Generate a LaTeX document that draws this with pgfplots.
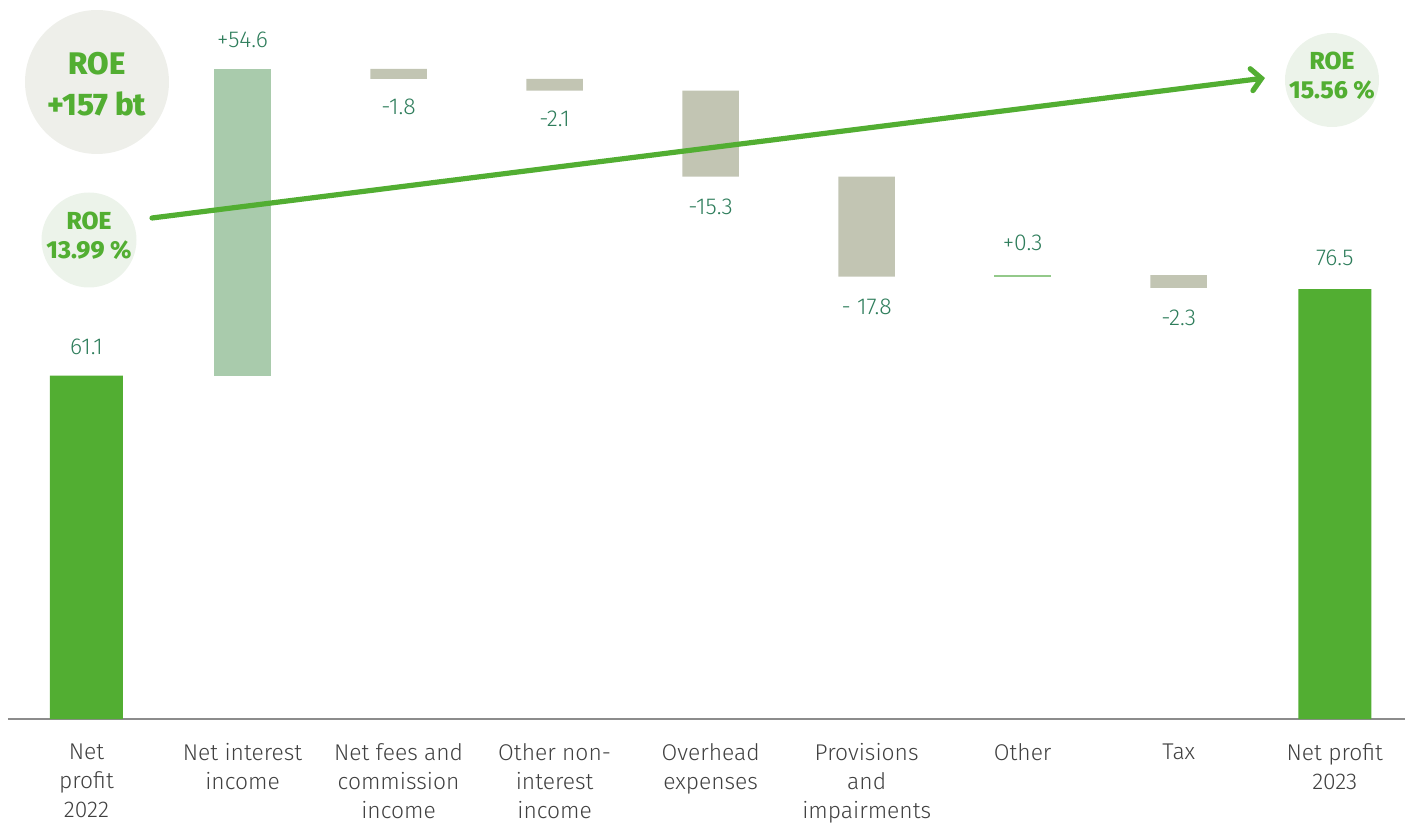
\documentclass[border=0pt]{standalone}
\usepackage{fontspec}
\setmainfont{Fira Sans Light}
\newfontfamily\heavy{Fira Sans ExtraBold}
\usepackage{pgfplots}
\pgfplotsset{compat=1.18}
\usetikzlibrary{arrows.meta}
\definecolor{npgreen}{HTML}{52AE32}
\definecolor{niigreen}{HTML}{A9CBAC}
\definecolor{greybar}{HTML}{C2C5B3}
\definecolor{othgreen}{HTML}{93C98A}
\definecolor{valgreen}{HTML}{2E7D5B}
\definecolor{labgrey}{HTML}{404040}
\definecolor{bigcirc}{HTML}{EEEFEA}
\definecolor{smallcirc}{HTML}{ECF3EA}
\definecolor{arrowgreen}{HTML}{52AE32}
\tikzset{vlab/.style={text=valgreen, font=\fontsize{11.5}{13}\selectfont}}
\begin{document}
\begin{tikzpicture}
\useasboundingbox (0,0) rectangle (702.5pt,-411.5pt);
% annotation circles
\fill[bigcirc] (48.5pt,-41pt) circle (36pt);
\fill[smallcirc] (44.5pt,-120pt) circle (23.75pt);
\fill[smallcirc] (666pt,-40pt) circle (23.5pt);
\begin{axis}[
  at={(4pt,-359.5pt)}, anchor=south west,
  scale only axis, width=698.5pt, height=359.5pt,
  xmin=-0.503, xmax=8.45, ymin=0, ymax=127.94,
  ybar stacked,
  axis y line=none, axis x line=bottom,
  x axis line style={-, draw=black!45, line width=1pt},
  xtick={0,1,2,3,4,5,6,7,8}, xtick style={draw=none}, major tick length=0pt,
  xticklabels={{Net\\profit\\2022},{Net interest\\income},{Net fees and\\commission\\income},{Other non-\\interest\\income},{Overhead\\expenses},{Provisions\\and\\impairments},{Other},{Tax},{Net profit\\2023}},
  xticklabel style={align=center, anchor=north, inner sep=0pt, yshift=-12pt, text=labgrey, font=\fontsize{11.4}{14.5}\selectfont},
  clip=false,
]
\addplot[fill=white, draw=none, opacity=0, bar width=28.25pt] coordinates {(0,0)(1,61.1)(2,113.9)(3,111.8)(4,96.5)(5,78.7)(6,78.7)(7,76.7)(8,0)};
\addplot[fill=npgreen, draw=none, bar width=36.5pt] coordinates {(0,61.1)(1,0)(2,0)(3,0)(4,0)(5,0)(6,0)(7,0)(8,76.5)};
\addplot[fill=niigreen, draw=none, bar width=28.25pt] coordinates {(0,0)(1,54.6)(2,0)(3,0)(4,0)(5,0)(6,0)(7,0)(8,0)};
\addplot[fill=greybar, draw=none, bar width=28.25pt] coordinates {(0,0)(1,0)(2,1.8)(3,2.1)(4,15.3)(5,17.8)(6,0)(7,2.3)(8,0)};
\addplot[fill=othgreen, draw=none, bar width=28.25pt] coordinates {(0,0)(1,0)(2,0)(3,0)(4,0)(5,0)(6,0.3)(7,0)(8,0)};
% value labels
\node[vlab, yshift=14.5pt] at (axis cs:0,61.1) {61.1};
\node[vlab, yshift=14.5pt] at (axis cs:1,115.7) {+54.6};
\node[vlab, yshift=-14pt] at (axis cs:2,113.9) {-1.8};
\node[vlab, yshift=-14pt] at (axis cs:3,111.8) {-2.1};
\node[vlab, yshift=-15pt] at (axis cs:4,96.5) {-15.3};
\node[vlab, yshift=-15pt] at (axis cs:5,78.7) {- 17.8};
\node[vlab, yshift=16pt] at (axis cs:6,79.0) {+0.3};
\node[vlab, yshift=-15pt] at (axis cs:7,76.7) {-2.3};
\node[vlab, yshift=15.5pt] at (axis cs:8,76.5) {76.5};
\end{axis}
% ROE arrow
\draw[arrowgreen, line width=2.6pt, line cap=round, -{Straight Barb[length=5pt, width=11pt, line cap=round]}] (76pt,-109pt) -- (632.5pt,-39pt);
% circle texts
\node[align=center, text=npgreen, font=\heavy\fontsize{15.6}{20.5}\selectfont] at (48.5pt,-42pt) {ROE\\+157 bt};
\node[align=center, text=npgreen, font=\heavy\fontsize{12.3}{14.25}\selectfont] at (44.5pt,-118pt) {ROE\\13.99 \%};
\node[align=center, text=npgreen, font=\heavy\fontsize{12.3}{14.25}\selectfont] at (666pt,-38pt) {ROE\\15.56 \%};
\end{tikzpicture}
\end{document}
